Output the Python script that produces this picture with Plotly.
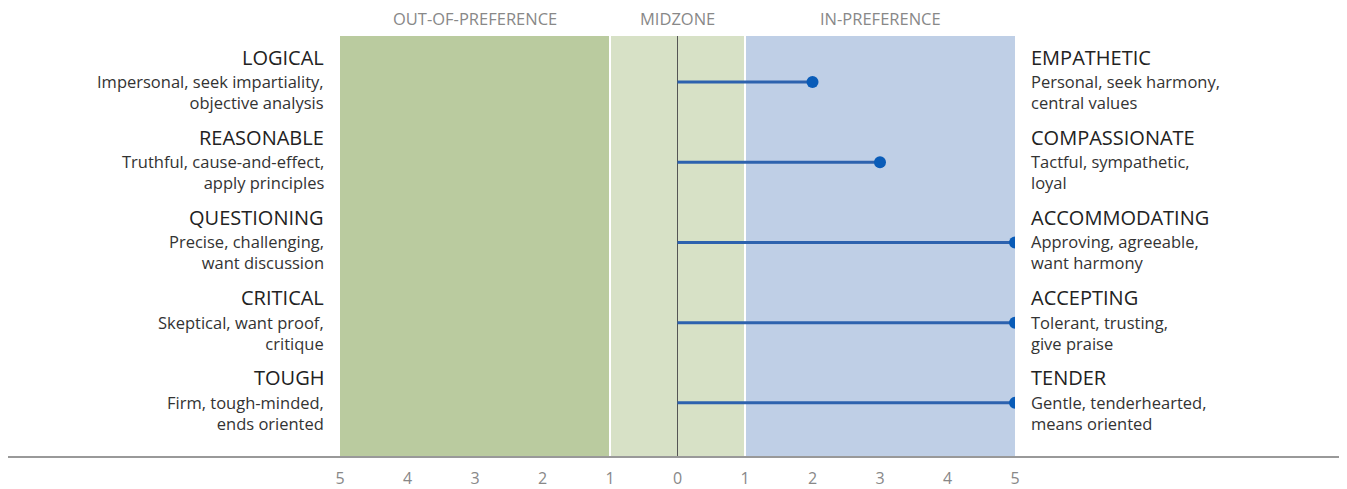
import plotly.graph_objects as go

left_titles = ["LOGICAL", "REASONABLE", "QUESTIONING", "CRITICAL", "TOUGH"]
left_subs = [
    ["Impersonal, seek impartiality,", "objective analysis"],
    ["Truthful, cause-and-effect,", "apply principles"],
    ["Precise, challenging,", "want discussion"],
    ["Skeptical, want proof,", "critique"],
    ["Firm, tough-minded,", "ends oriented"],
]
right_titles = ["EMPATHETIC", "COMPASSIONATE", "ACCOMMODATING", "ACCEPTING", "TENDER"]
right_subs = [
    ["Personal, seek harmony,", "central values"],
    ["Tactful, sympathetic,", "loyal"],
    ["Approving, agreeable,", "want harmony"],
    ["Tolerant, trusting,", "give praise"],
    ["Gentle, tenderhearted,", "means oriented"],
]
scores = [2, 3, 5, 5, 5]
tick_vals = [-5, -4, -3, -2, -1, 0, 1, 2, 3, 4, 5]
tick_text = ["5", "4", "3", "2", "1", "0", "1", "2", "3", "4", "5"]
zone_names = ["OUT-OF-PREFERENCE", "MIDZONE", "IN-PREFERENCE"]
zone_centers = [-3, 0, 3]
zone_bounds = [(-5, -1), (-1, 1), (1, 5)]
zone_colors = ["#bacb9f", "#d7e1c6", "#bfcfe6"]

FONT = "Open Sans"
LINE_COLOR = "#2d62ae"
DOT_COLOR = "#0a5cb8"

fig = go.Figure()

rows = list(range(len(scores)))

shapes = []
for (a, b), c in zip(zone_bounds, zone_colors):
    shapes.append(dict(type="rect", xref="x", yref="paper", x0=a, x1=b, y0=0, y1=1,
                       fillcolor=c, line=dict(width=0), layer="below"))
for xv in (-1, 1):
    shapes.append(dict(type="line", xref="x", yref="paper", x0=xv, x1=xv, y0=0, y1=1,
                       line=dict(color="white", width=2), layer="below"))
shapes.append(dict(type="line", xref="x", yref="paper", x0=0, x1=0, y0=0, y1=1,
                   line=dict(color="#555555", width=1), layer="below"))
shapes.append(dict(type="line", xref="paper", yref="paper", x0=-0.496, x1=1.492, y0=0, y1=0,
                   line=dict(color="#999999", width=2)))

for i, v in zip(rows, scores):
    fig.add_trace(go.Scatter(x=[0, v], y=[i, i], mode="lines",
                             line=dict(color=LINE_COLOR, width=3),
                             hoverinfo="skip", showlegend=False))
fig.add_trace(go.Scatter(x=scores, y=rows, mode="markers",
                         marker=dict(color=DOT_COLOR, size=12),
                         showlegend=False))

annotations = []
for i in rows:
    annotations.append(dict(x=-5, y=i, xref="x", yref="y", xanchor="right", yanchor="middle",
                            xshift=-15, yshift=25, text=left_titles[i], showarrow=False,
                            borderpad=0,
                            font=dict(family=FONT, size=20, color="#222222")))
    annotations.append(dict(x=-5, y=i, xref="x", yref="y", xanchor="right", yanchor="middle",
                            xshift=-15, yshift=-10, text="<br>".join(left_subs[i]), showarrow=False,
                            borderpad=0,
                            align="right", font=dict(family=FONT, size=16.5, color="#333333")))
    annotations.append(dict(x=5, y=i, xref="x", yref="y", xanchor="left", yanchor="middle",
                            xshift=15, yshift=25, text=right_titles[i], showarrow=False,
                            borderpad=0,
                            font=dict(family=FONT, size=20, color="#222222")))
    annotations.append(dict(x=5, y=i, xref="x", yref="y", xanchor="left", yanchor="middle",
                            xshift=15, yshift=-10, text="<br>".join(right_subs[i]), showarrow=False,
                            borderpad=0,
                            align="left", font=dict(family=FONT, size=16.5, color="#333333")))
for name, cx in zip(zone_names, zone_centers):
    annotations.append(dict(x=cx, y=1, xref="x", yref="paper", xanchor="center", yanchor="middle",
                            yshift=18, text=name, showarrow=False,
                            font=dict(family=FONT, size=16.5, color="#888888")))

fig.update_layout(
    width=1339, height=481,
    margin=dict(l=332, r=332, t=28, b=32, autoexpand=False),
    paper_bgcolor="white", plot_bgcolor="white",
    shapes=shapes, annotations=annotations,
    xaxis=dict(range=[-5, 5], tickvals=tick_vals, ticktext=tick_text, showgrid=False,
               zeroline=False, showline=False, ticks="outside", ticklen=7, tickcolor="rgba(0,0,0,0)",
               tickfont=dict(family=FONT, size=16, color="#888888"), fixedrange=True,
               automargin=False),
    yaxis=dict(range=[4.675, -0.575], showgrid=False, zeroline=False, showticklabels=False,
               showline=False, fixedrange=True, automargin=False),
    font=dict(family=FONT),
)

fig.write_html("out.html")
